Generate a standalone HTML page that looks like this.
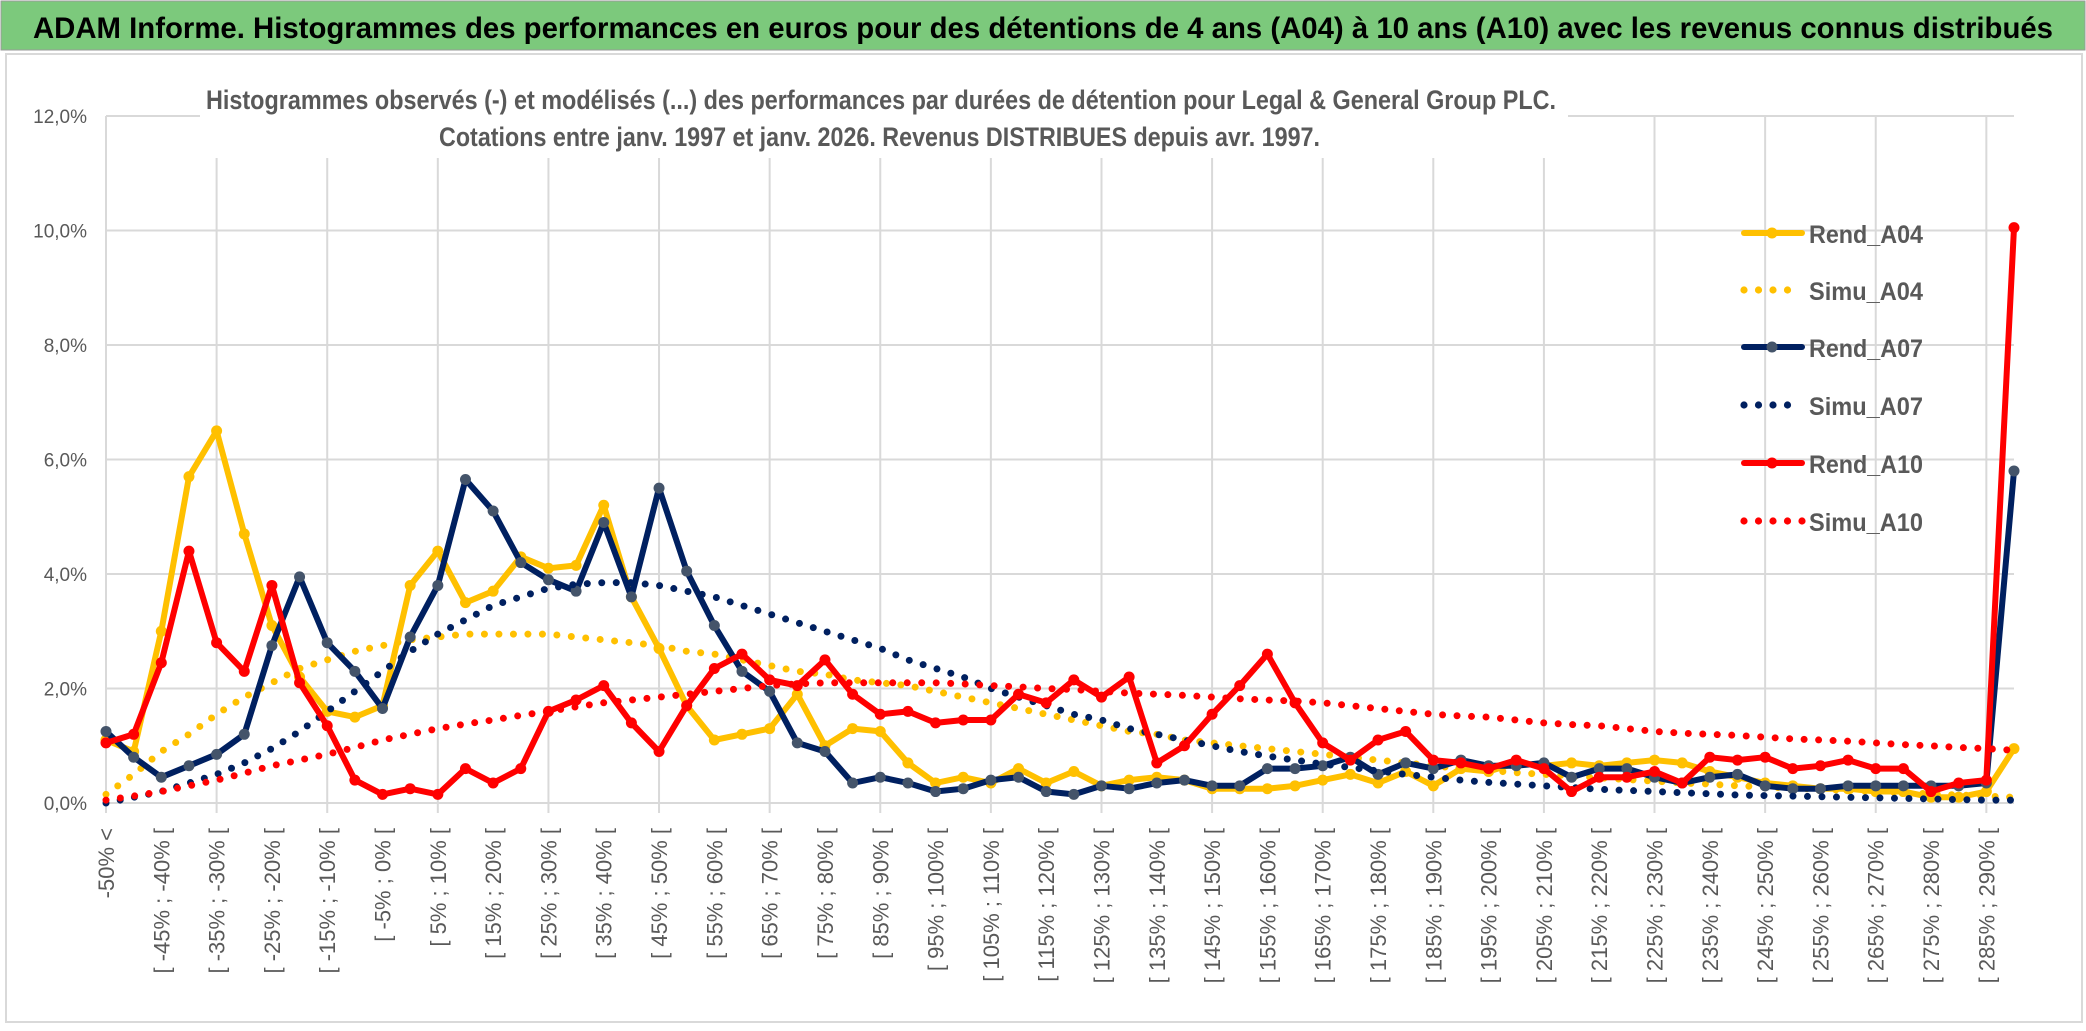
<!DOCTYPE html>
<html><head><meta charset="utf-8"><style>
html,body{margin:0;padding:0;background:#fff;width:2086px;height:1031px;overflow:hidden}
svg{display:block;font-family:"Liberation Sans",sans-serif}
</style></head><body>
<svg id="chart" width="2086" height="1031" viewBox="0 0 2086 1031">
<rect x="0" y="0" width="2086" height="1031" fill="#fff"/>
<rect x="1" y="1" width="2084" height="49" fill="#7cc97c" stroke="#9a9a9a" stroke-width="1"/>
<text x="33" y="38" font-size="30" font-weight="bold" fill="#000" textLength="2020" lengthAdjust="spacingAndGlyphs">ADAM Informe. Histogrammes des performances en euros pour des détentions de 4 ans (A04) à 10 ans (A10) avec les revenus connus distribués</text>
<rect x="6" y="54" width="2076" height="968" fill="none" stroke="#d9d9d9" stroke-width="2"/>
<g id="grid"></g>
<g id="ylabels"></g>
<g id="xlabels"></g>
<rect x="200" y="74" width="1368" height="84" fill="#fff"/>
<text x="206" y="109" font-size="27" font-weight="bold" fill="#595959" textLength="1350" lengthAdjust="spacingAndGlyphs">Histogrammes observés (-) et modélisés (...) des performances par durées de détention pour Legal &amp; General Group PLC.</text>
<text x="439" y="146" font-size="27" font-weight="bold" fill="#595959" textLength="881" lengthAdjust="spacingAndGlyphs">Cotations entre janv. 1997 et janv. 2026. Revenus DISTRIBUES depuis avr. 1997.</text>
<g id="series"></g>
<g id="legend"></g>
</svg>
<script>
const rendA04 = [1.1,0.9,3.0,5.7,6.5,4.7,3.1,2.2,1.6,1.5,1.7,3.8,4.4,3.5,3.7,4.3,4.1,4.15,5.2,3.6,2.7,1.7,1.1,1.2,1.3,1.9,1.0,1.3,1.25,0.7,0.35,0.45,0.35,0.6,0.35,0.55,0.3,0.4,0.45,0.4,0.25,0.25,0.25,0.3,0.4,0.5,0.35,0.55,0.3,0.6,0.55,0.7,0.65,0.7,0.65,0.7,0.75,0.7,0.55,0.45,0.35,0.3,0.25,0.25,0.2,0.2,0.1,0.1,0.2,0.95];
const simuA04 = [0.15,0.5,0.9,1.2,1.55,1.85,2.1,2.35,2.5,2.65,2.75,2.85,2.9,2.95,2.95,2.95,2.95,2.9,2.85,2.8,2.75,2.65,2.6,2.5,2.4,2.3,2.25,2.15,2.1,2.05,1.95,1.85,1.75,1.65,1.55,1.45,1.35,1.25,1.2,1.1,1.05,1.0,0.95,0.9,0.85,0.8,0.75,0.7,0.65,0.6,0.57,0.53,0.5,0.47,0.44,0.41,0.38,0.35,0.33,0.3,0.28,0.26,0.24,0.22,0.2,0.18,0.16,0.14,0.12,0.1];
const rendA07 = [1.25,0.8,0.45,0.65,0.85,1.2,2.75,3.95,2.8,2.3,1.65,2.9,3.8,5.65,5.1,4.2,3.9,3.7,4.9,3.6,5.5,4.05,3.1,2.3,1.95,1.05,0.9,0.35,0.45,0.35,0.2,0.25,0.4,0.45,0.2,0.15,0.3,0.25,0.35,0.4,0.3,0.3,0.6,0.6,0.65,0.8,0.5,0.7,0.6,0.75,0.65,0.65,0.7,0.45,0.6,0.6,0.45,0.35,0.45,0.5,0.3,0.25,0.25,0.3,0.3,0.3,0.3,0.3,0.35,5.8];
const simuA07 = [0,0.1,0.2,0.35,0.5,0.7,0.95,1.25,1.6,1.95,2.3,2.65,2.95,3.2,3.45,3.6,3.75,3.82,3.85,3.85,3.8,3.7,3.6,3.45,3.3,3.15,3.0,2.85,2.7,2.5,2.35,2.2,2.0,1.85,1.7,1.55,1.45,1.3,1.2,1.1,1.0,0.9,0.82,0.75,0.68,0.62,0.56,0.5,0.45,0.4,0.36,0.33,0.3,0.27,0.24,0.22,0.2,0.18,0.16,0.14,0.13,0.12,0.11,0.1,0.09,0.08,0.07,0.06,0.05,0.05];
const rendA10 = [1.05,1.2,2.45,4.4,2.8,2.3,3.8,2.1,1.35,0.4,0.15,0.25,0.15,0.6,0.35,0.6,1.6,1.8,2.05,1.4,0.9,1.7,2.35,2.6,2.15,2.05,2.5,1.9,1.55,1.6,1.4,1.45,1.45,1.9,1.75,2.15,1.85,2.2,0.7,1.0,1.55,2.05,2.6,1.75,1.05,0.75,1.1,1.25,0.75,0.7,0.6,0.75,0.6,0.2,0.45,0.45,0.55,0.35,0.8,0.75,0.8,0.6,0.65,0.75,0.6,0.6,0.2,0.35,0.4,10.05];
const simuA10 = [0.05,0.12,0.2,0.3,0.4,0.52,0.65,0.75,0.85,0.97,1.1,1.2,1.3,1.38,1.45,1.53,1.6,1.68,1.75,1.8,1.85,1.9,1.95,2.0,2.05,2.08,2.1,2.1,2.1,2.1,2.1,2.08,2.05,2.03,2.0,1.98,1.95,1.92,1.9,1.88,1.85,1.82,1.8,1.78,1.75,1.7,1.65,1.6,1.55,1.52,1.5,1.45,1.4,1.37,1.35,1.3,1.25,1.22,1.2,1.18,1.15,1.12,1.1,1.08,1.05,1.02,1.0,0.97,0.95,0.92];
const yTicks = [0,2,4,6,8,10,12];
const yTickLabels = ["0,0%","2,0%","4,0%","6,0%","8,0%","10,0%","12,0%"];
const categories = ["-50% <"];
for (let k = 1; k < 70; k++) categories.push("[ " + (-55 + 5 * k) + "% ; " + (-50 + 5 * k) + "% [");

const NS = "http://www.w3.org/2000/svg";
const X0 = 106, X1 = 2014, Y0 = 803, YMAX = 12, YTOP = 116;
const n = categories.length;
function xs(i) { return X0 + i * (X1 - X0) / (n - 1); }
function ys(v) { return Y0 - v * (Y0 - YTOP) / YMAX; }
function mk(tag, attrs, parent) {
  const e = document.createElementNS(NS, tag);
  for (const k in attrs) e.setAttribute(k, attrs[k]);
  parent.appendChild(e);
  return e;
}
const grid = document.getElementById("grid");
const yl = document.getElementById("ylabels");
yTicks.forEach((t, i) => {
  const l = mk("line", {x1: X0, x2: X1, y1: ys(t), y2: ys(t), stroke: "#d9d9d9", "stroke-width": 2}, grid);
  
  
  const tx = mk("text", {x: 87, y: ys(t) + 7, "text-anchor": "end", "font-size": 19, fill: "#595959"}, yl);
  tx.textContent = yTickLabels[i];
  
  
});
for (let i = 0; i < n; i += 4) {
  const l = mk("line", {x1: xs(i), x2: xs(i), y1: YTOP, y2: Y0 + 10, stroke: "#d9d9d9", "stroke-width": 2}, grid);
  
  
}
const xl = document.getElementById("xlabels");
categories.forEach((c, i) => {
  if (i % 2 !== 0) return;
  const x = xs(i) + 8, y = 828;
  const t = mk("text", {x: x, y: y, "text-anchor": "end", "font-size": 22, fill: "#595959", transform: "rotate(-90 " + x + " " + y + ")"}, xl);
  t.textContent = c;
  
  
});
const seriesDefs = [
  {name: "Rend_A04", data: rendA04, color: "#ffc000", marker: "#ffc000", dotted: false},
  {name: "Simu_A04", data: simuA04, color: "#ffc000", dotted: true},
  {name: "Rend_A07", data: rendA07, color: "#002060", marker: "#44546a", dotted: false},
  {name: "Simu_A07", data: simuA07, color: "#002060", dotted: true},
  {name: "Rend_A10", data: rendA10, color: "#ff0000", marker: "#ff0000", dotted: false},
  {name: "Simu_A10", data: simuA10, color: "#ff0000", dotted: true}
];
const sl = document.getElementById("series");
const lg = document.getElementById("legend");
const legendY = [233, 290, 347, 405, 463, 521];
seriesDefs.forEach((s, si) => {
  const g = mk("g", {}, sl);
  
  
  const pts = s.data.map((v, i) => xs(i).toFixed(1) + "," + ys(v).toFixed(1)).join(" ");
  if (s.dotted) {
    const p = mk("polyline", {points: pts, fill: "none", stroke: s.color, "stroke-width": 7, "stroke-linecap": "round", "stroke-dasharray": "0 14.5"}, g);
    
    
  } else {
    const p = mk("polyline", {points: pts, fill: "none", stroke: s.color, "stroke-width": 6, "stroke-linejoin": "round"}, g);
    
    
    s.data.forEach((v, i) => {
      const c = mk("circle", {cx: xs(i), cy: ys(v), r: 5.5, fill: s.marker}, g);
      
      
    });
  }
  const ly = legendY[si];
  const e = mk("g", {}, lg);
  
  
  if (s.dotted) {
    const cnt = si === 5 ? 5 : 4;
    for (let k = 0; k < cnt; k++) mk("circle", {cx: 1744 + k * 14.5, cy: ly, r: 3.6, fill: s.color}, e);
  } else {
    mk("line", {x1: 1744, x2: 1802, y1: ly, y2: ly, stroke: s.color, "stroke-width": 6, "stroke-linecap": "round"}, e);
    mk("circle", {cx: 1772, cy: ly, r: 5.5, fill: s.marker}, e);
  }
  const t = mk("text", {x: 1809, y: ly + 10, "font-size": 25, "font-weight": "bold", fill: "#595959", textLength: 114, lengthAdjust: "spacingAndGlyphs"}, e);
  t.textContent = s.name;
  
  
});
</script>
</body></html>
